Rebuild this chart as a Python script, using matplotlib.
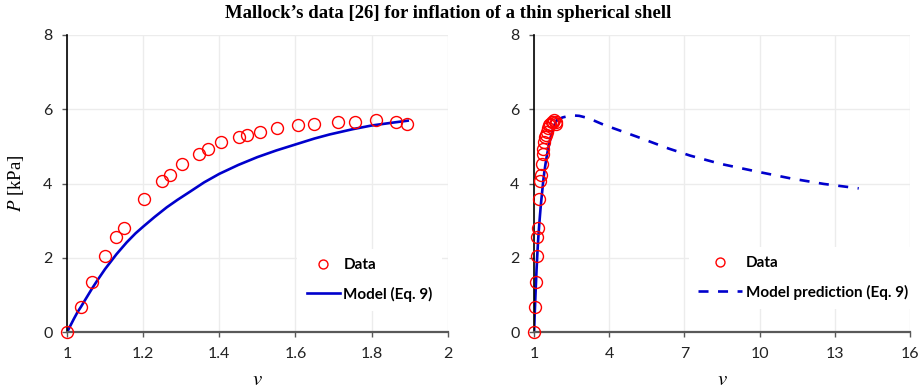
import numpy as np
import matplotlib
matplotlib.use("Agg")
import matplotlib.pyplot as plt

# Mallock's data (stretch v, pressure P in kPa)
data_v = [1.0, 1.037, 1.067, 1.101, 1.130, 1.150, 1.201, 1.249, 1.270, 1.303, 1.347, 1.370,
          1.405, 1.453, 1.474, 1.507, 1.552, 1.608, 1.649, 1.711, 1.757, 1.811, 1.864, 1.892]
data_p = [0.0, 0.69, 1.36, 2.04, 2.56, 2.81, 3.59, 4.06, 4.22, 4.52, 4.80, 4.94,
          5.11, 5.24, 5.31, 5.39, 5.48, 5.57, 5.61, 5.65, 5.66, 5.70, 5.65, 5.59]

# Model (Eq. 9) over the data range
model_v = [1.0, 1.009, 1.018, 1.027, 1.037, 1.05, 1.066, 1.08, 1.10, 1.13, 1.157, 1.18, 1.20,
           1.23, 1.262, 1.29, 1.323, 1.36, 1.40, 1.45, 1.50, 1.55, 1.60, 1.65, 1.69, 1.75,
           1.80, 1.85, 1.895]
model_p = [0.0, 0.18, 0.36, 0.53, 0.69, 0.91, 1.18, 1.40, 1.70, 2.10, 2.42, 2.66, 2.84,
           3.10, 3.36, 3.56, 3.78, 4.03, 4.26, 4.50, 4.71, 4.89, 5.05, 5.21, 5.32, 5.46,
           5.56, 5.63, 5.69]

# Model prediction beyond the data
pred_v = [1.895, 2.0, 2.15, 2.35, 2.58, 2.8, 3.1, 3.4, 3.78, 4.44, 5.1, 5.77, 6.37, 7.23,
          8.43, 9.9, 11.22, 12.55, 13.95]
pred_p = [5.69, 5.74, 5.78, 5.81, 5.83, 5.82, 5.77, 5.69, 5.58, 5.42, 5.26, 5.09, 4.94,
          4.75, 4.53, 4.32, 4.14, 3.99, 3.87]

title = "Mallock\u2019s data [26] for inflation of a thin spherical shell"

plt.rcParams['font.family'] = ['Lato', 'DejaVu Sans']
plt.rcParams['mathtext.fontset'] = 'stix'

red = '#ff0000'
blue = '#0000cc'
serif = 'Liberation Serif'

fig = plt.figure(figsize=(9.24, 3.92), dpi=100)
ax1 = fig.add_axes([0.0725, 0.1523, 0.412, 0.759])
ax2 = fig.add_axes([0.578, 0.1523, 0.407, 0.759])


def style_axes(ax, xlim, xticks):
    ax.set_xlim(*xlim)
    ax.set_ylim(0, 8)
    ax.set_xticks(xticks)
    ax.set_yticks([0, 2, 4, 6, 8])
    ax.grid(True, color='#ececec', lw=1.0, zorder=0)
    ax.set_axisbelow(True)
    for s in ['top', 'right']:
        ax.spines[s].set_visible(False)
    ax.spines['bottom'].set_color('#595959')
    ax.spines['bottom'].set_linewidth(1.6)
    ax.spines['left'].set_color('black')
    ax.spines['left'].set_linewidth(1.2)
    ax.tick_params(axis='both', labelsize=11.5, colors='#222222', length=3.5, width=1.0)
    ax.tick_params(axis='x', pad=7, color='#595959')
    ax.tick_params(axis='y', pad=7, color='#595959')
    ax.set_xlabel('$v$', fontsize=15, labelpad=6)


style_axes(ax1, (1, 2), [1, 1.2, 1.4, 1.6, 1.8, 2])
ax1.set_xticklabels(['1', '1.2', '1.4', '1.6', '1.8', '2'])
style_axes(ax2, (1, 16), [1, 4, 7, 10, 13, 16])

ax1.set_ylabel('$P$ [kPa]', fontsize=13.5, family=serif, labelpad=12)

# left panel
ax1.plot(data_v, data_p, 'o', ms=8.6, mfc='none', mec=red, mew=1.0, label='Data', zorder=3, clip_on=False)
ax1.plot(model_v, model_p, '-', color=blue, lw=1.9, label='Model (Eq. 9)', zorder=2)

# right panel
ax2.plot(data_v, data_p, 'o', ms=8.6, mfc='none', mec=red, mew=1.0, label='Data', zorder=3, clip_on=False)
ax2.plot(model_v, model_p, '-', color=blue, lw=1.9, zorder=2)
ax2.plot(pred_v, pred_p, '--', color=blue, lw=1.9, dashes=(3.8, 3.6),
         label='Model prediction (Eq. 9)', zorder=2)

leg_font = {'family': 'Lato', 'weight': 'bold', 'size': 11}
leg1 = ax1.legend(loc='center', bbox_to_anchor=(0.795, 0.176), frameon=True, edgecolor='none',
                  facecolor='white', framealpha=1, fancybox=False, prop=leg_font,
                  handlelength=2.2, handletextpad=0.2, labelspacing=0.95, markerscale=0.75,
                  borderpad=0.6)
leg2 = ax2.legend(loc='center', bbox_to_anchor=(0.715, 0.183), frameon=True, edgecolor='none',
                  facecolor='white', framealpha=1, fancybox=False, prop=leg_font,
                  handlelength=2.9, handletextpad=0.2, labelspacing=0.95, markerscale=0.75,
                  borderpad=0.6)

fig.text(0.485, 0.965, title, ha='center', va='center', fontsize=13.5, fontweight='bold', family=serif)

fig.savefig('out.png', dpi=100)
